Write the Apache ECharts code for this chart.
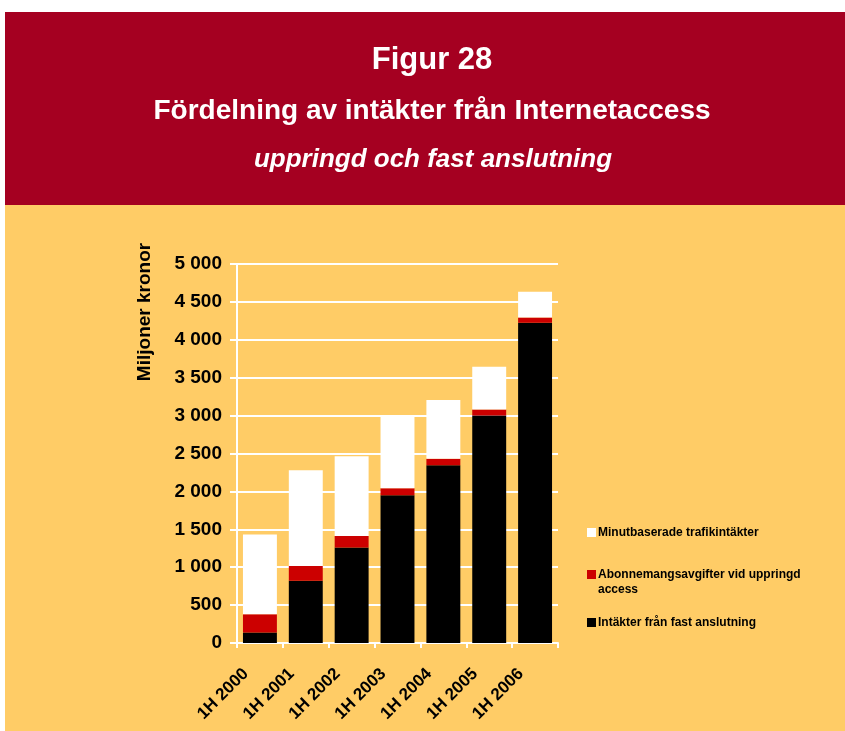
<!DOCTYPE html>
<html>
  <head>
    <meta charset="utf-8" />
    <title>Figur 28</title>
    <script src="https://cdn.jsdelivr.net/npm/echarts@6/dist/echarts.min.js"></script>
    <style>
      body { margin: 0; background: #fff; }
    </style>
  </head>
  <body>
    <div id="main" style="width: 845px;height: 731px;"></div>
    <script type="text/javascript">
      var categories = ['1H 2000', '1H 2001', '1H 2002', '1H 2003', '1H 2004', '1H 2005', '1H 2006'];
      // Miljoner kronor
      var fastValues = [140, 820, 1260, 1950, 2345, 3000, 4225];
      var abonnemangValues = [240, 195, 150, 90, 85, 80, 70];
      var minutValues = [1050, 1265, 1055, 945, 775, 565, 340];
      var seriesNames = ['Intäkter från fast anslutning', 'Abonnemangsavgifter vid uppringd access', 'Minutbaserade trafikintäkter'];

      var myChart = echarts.init(document.getElementById('main'));
      var font = 'Arial, "Liberation Sans", sans-serif';

      function legendAt(name, top) {
        var twoLines = name === seriesNames[1];
        return {
          data: [name],
          left: 582,
          top: top,
          orient: 'vertical',
          itemWidth: 9,
          itemHeight: twoLines ? 30 : 9,
          // square sits next to the first line of the wrapped label
          icon: twoLines ? 'path://M0,0h0M0,3h9v9h-9zM0,30h0' : 'rect',
          selectedMode: false,
          formatter: function (n) {
            return twoLines ? 'Abonnemangsavgifter vid uppringd\naccess' : n;
          },
          textStyle: { color: '#000', fontWeight: 'bold', fontSize: 12, fontFamily: font, lineHeight: 15, padding: [0, 0, 0, -3] }
        };
      }

      var option = {
        animation: false,
        backgroundColor: '#fff',
        graphic: [
          { type: 'rect', z: -10, shape: { x: 5, y: 12, width: 840, height: 193 }, style: { fill: '#A50021' } },
          { type: 'rect', z: -10, shape: { x: 5, y: 205, width: 840, height: 526 }, style: { fill: '#FFCC66' } },
          { type: 'text', x: 432, y: 60, style: { text: 'Figur 28', fill: '#fff', font: 'bold 31px ' + font, textAlign: 'center', textVerticalAlign: 'middle' } },
          { type: 'text', x: 432, y: 111, style: { text: 'Fördelning av intäkter från Internetaccess', fill: '#fff', font: 'bold 28px ' + font, textAlign: 'center', textVerticalAlign: 'middle' } },
          { type: 'text', x: 433, y: 160, style: { text: 'uppringd och fast anslutning', fill: '#fff', font: 'italic bold 26px ' + font, textAlign: 'center', textVerticalAlign: 'middle' } },
          { type: 'text', x: 145, y: 312, rotation: Math.PI / 2, style: { text: 'Miljoner kronor', fill: '#000', font: 'bold 19px ' + font, textAlign: 'center', textVerticalAlign: 'middle' } }
        ],
        legend: [
          legendAt(seriesNames[2], 520),
          legendAt(seriesNames[1], 562),
          legendAt(seriesNames[0], 610)
        ],
        grid: { left: 237, top: 264, right: 287, bottom: 88 },
        xAxis: {
          type: 'category',
          data: categories,
          axisLine: { lineStyle: { color: '#fff', width: 2 } },
          axisTick: { show: true, length: 5, lineStyle: { color: '#fff', width: 2 } },
          axisLabel: { rotate: 45, margin: 14, padding: [0, 20, 0, 0], color: '#000', fontWeight: 'bold', fontSize: 17, fontFamily: font }
        },
        yAxis: {
          type: 'value',
          min: 0,
          max: 5000,
          interval: 500,
          axisLine: { show: true, lineStyle: { color: '#fff', width: 2 } },
          axisTick: { show: true, length: 7, lineStyle: { color: '#fff', width: 2 } },
          splitLine: { lineStyle: { color: '#fff', width: 2 } },
          axisLabel: {
            margin: 15,
            color: '#000',
            fontWeight: 'bold',
            fontSize: 19,
            fontFamily: font,
            formatter: function (v) {
              return String(v).replace(/\B(?=(\d{3})+(?!\d))/g, ' ');
            }
          }
        },
        series: [
          { name: seriesNames[0], type: 'bar', stack: 'a', barWidth: '74%', data: fastValues, itemStyle: { color: '#000' } },
          { name: seriesNames[1], type: 'bar', stack: 'a', data: abonnemangValues, itemStyle: { color: '#CC0000' } },
          { name: seriesNames[2], type: 'bar', stack: 'a', data: minutValues, itemStyle: { color: '#fff' } }
        ]
      };
      myChart.setOption(option);
    </script>
  </body>
</html>
